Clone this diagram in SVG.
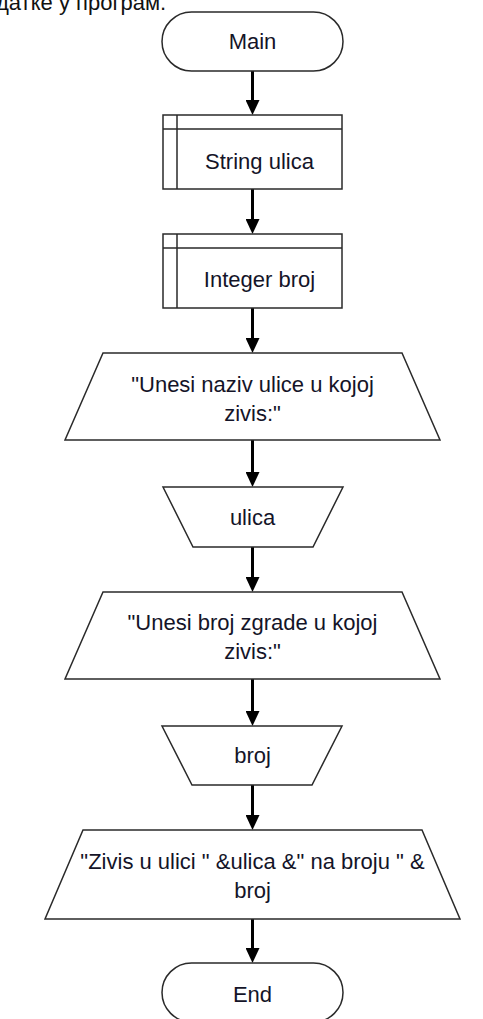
<svg xmlns="http://www.w3.org/2000/svg" width="483" height="1019" viewBox="0 0 483 1019">
  <style>
    .shape { fill: #ffffff; stroke: #2a2a2a; stroke-width: 1.5; }
    .inner { fill: none; stroke: #2a2a2a; stroke-width: 1.5; }
    .label { font-family: "Liberation Sans", Arial, sans-serif; font-size: 22px; fill: #141428; text-anchor: middle; }
    .note { font-family: "Liberation Sans", Arial, sans-serif; font-size: 22px; fill: #111111; }
    .flow { stroke: #000000; stroke-width: 3; fill: none; marker-end: url(#head); }
  </style>
  <defs>
    <!-- solid triangular arrowhead; the tip sits 5px past the line end so the thick stroke stays hidden inside it -->
    <marker id="head" viewBox="0 0 15 14" refX="10" refY="7" markerWidth="15" markerHeight="14" markerUnits="userSpaceOnUse" orient="auto">
      <path d="M0,0 L15,7 L0,14 Z" fill="#000000"/>
    </marker>
  </defs>

  <rect width="483" height="1019" fill="#ffffff"/>

  <!-- caption line above the chart, clipped by the top edge -->
  <text class="note" x="-4" y="10">датке у програм.</text>

  <!-- connectors (vertical flow, arrowheads down; each line stops 5px short of the next shape) -->
  <g id="connectors">
    <line class="flow" x1="252.5" y1="71" x2="252.5" y2="110"/>
    <line class="flow" x1="252.5" y1="189" x2="252.5" y2="229"/>
    <line class="flow" x1="252.5" y1="308" x2="252.5" y2="348"/>
    <line class="flow" x1="252.5" y1="440" x2="252.5" y2="482"/>
    <line class="flow" x1="252.5" y1="547" x2="252.5" y2="587"/>
    <line class="flow" x1="252.5" y1="679" x2="252.5" y2="721"/>
    <line class="flow" x1="252.5" y1="785" x2="252.5" y2="825"/>
    <line class="flow" x1="252.5" y1="919" x2="252.5" y2="958"/>
  </g>

  <!-- terminator: Main -->
  <g id="main">
    <rect class="shape" x="162" y="12" width="181" height="59" rx="29.5" ry="29.5"/>
    <text class="label" x="252.5" y="49">Main</text>
  </g>

  <!-- declare: String ulica -->
  <g id="declare-ulica">
    <rect class="shape" x="163" y="115" width="179" height="74"/>
    <path class="inner" d="M163,129 H342 M177,115 V189"/>
    <text class="label" x="259.5" y="169">String ulica</text>
  </g>

  <!-- declare: Integer broj -->
  <g id="declare-broj">
    <rect class="shape" x="163" y="234" width="179" height="74"/>
    <path class="inner" d="M163,248 H342 M177,234 V308"/>
    <text class="label" x="259.5" y="287">Integer broj</text>
  </g>

  <!-- output prompt for street name -->
  <g id="output-ulica">
    <polygon class="shape" points="103,353 402,353 440,440 65,440"/>
    <text class="label" x="252.5" y="392">"Unesi naziv ulice u kojoj</text>
    <text class="label" x="252.5" y="421">zivis:"</text>
  </g>

  <!-- input: ulica -->
  <g id="input-ulica">
    <polygon class="shape" points="163,487 343,487 313,547 193,547"/>
    <text class="label" x="252.5" y="525">ulica</text>
  </g>

  <!-- output prompt for building number -->
  <g id="output-broj">
    <polygon class="shape" points="103,592 402,592 440,679 65,679"/>
    <text class="label" x="252.5" y="630">"Unesi broj zgrade u kojoj</text>
    <text class="label" x="252.5" y="659">zivis:"</text>
  </g>

  <!-- input: broj -->
  <g id="input-broj">
    <polygon class="shape" points="162,726 342,726 312,785 192,785"/>
    <text class="label" x="252.5" y="763">broj</text>
  </g>

  <!-- output: result -->
  <g id="output-result">
    <polygon class="shape" points="83,830 422,830 460,919 45,919"/>
    <text class="label" x="252.5" y="869">"Zivis u ulici " &amp;ulica &amp;" na broju " &amp;</text>
    <text class="label" x="252.5" y="898">broj</text>
  </g>

  <!-- terminator: End -->
  <g id="end">
    <rect class="shape" x="162" y="963" width="181" height="59" rx="29.5" ry="29.5"/>
    <text class="label" x="252.5" y="1002">End</text>
  </g>
</svg>
